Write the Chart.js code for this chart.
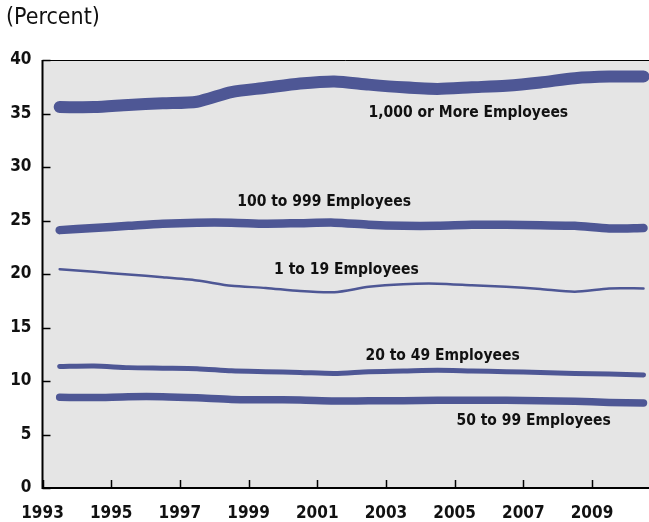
<!DOCTYPE html>
<html>
<head>
<meta charset="utf-8">
<script src="https://cdn.jsdelivr.net/npm/chart.js@4/dist/chart.umd.min.js"></script>
<style>
  html, body { margin: 0; padding: 0; background: #fff; }
  #wrap { width: 649px; height: 522px; }
</style>
</head>
<body>
<div id="wrap"><canvas id="chart" width="649" height="522"></canvas></div>
<script>
// annual values, plotted at mid-year
const years = [1993, 1994, 1995, 1996, 1997, 1998, 1999, 2000, 2001, 2002, 2003, 2004, 2005, 2006, 2007, 2008, 2009, 2010];
const xTicks = [1993, 1995, 1997, 1999, 2001, 2003, 2005, 2007, 2009];
const yTicks = [0, 5, 10, 15, 20, 25, 30, 35, 40];

const large = [35.6, 35.6, 35.8, 35.95, 36.1, 37.0, 37.4, 37.8, 38.0, 37.7, 37.45, 37.3, 37.45, 37.6, 37.9, 38.3, 38.45, 38.45];
const mid = [24.1, 24.3, 24.5, 24.7, 24.8, 24.8, 24.7, 24.75, 24.8, 24.6, 24.5, 24.5, 24.6, 24.6, 24.55, 24.5, 24.25, 24.3];
const small = [20.45, 20.2, 19.95, 19.7, 19.4, 18.9, 18.7, 18.4, 18.3, 18.8, 19.05, 19.1, 18.95, 18.8, 18.6, 18.35, 18.65, 18.65];
const twenty = [11.35, 11.4, 11.25, 11.2, 11.15, 10.95, 10.87, 10.8, 10.7, 10.87, 10.93, 11.0, 10.93, 10.87, 10.8, 10.7, 10.65, 10.56];
const fifty = [8.47, 8.45, 8.53, 8.53, 8.43, 8.28, 8.25, 8.22, 8.13, 8.15, 8.15, 8.2, 8.2, 8.2, 8.15, 8.1, 8.0, 7.95];

const seriesNames = ["1,000 or More Employees", "100 to 999 Employees", "1 to 19 Employees", "20 to 49 Employees", "50 to 99 Employees"];
const seriesValues = [large, mid, small, twenty, fifty];
const lineWidths = [12, 8.5, 2.5, 5, 7.5];

// label anchor in data units (center of text)
const labelSpots = [
  { x: 2005.4, y: 35.05 },
  { x: 2001.2, y: 26.7 },
  { x: 2001.85, y: 20.35 },
  { x: 2004.65, y: 12.35 },
  { x: 2007.3, y: 6.25 },
];

const blue = "#4e5795";
const fontName = "'DejaVu Sans Condensed', 'DejaVu Sans', sans-serif";

const datasets = seriesValues.map((vals, i) => ({
  label: seriesNames[i],
  data: vals.map((v, j) => ({ x: years[j] + 0.5, y: v })),
  borderColor: blue,
  borderWidth: lineWidths[i],
  borderCapStyle: "round",
  borderJoinStyle: "round",
  pointRadius: 0,
  tension: 0.25,
  fill: false,
}));

const decor = {
  id: "decor",
  beforeDraw(chart) {
    const { ctx, chartArea: a } = chart;
    ctx.save();
    ctx.fillStyle = "#e5e5e5";
    ctx.fillRect(a.left, a.top, a.right - a.left, a.bottom - a.top);
    ctx.restore();
  },
  afterDraw(chart) {
    const { ctx, chartArea: a, scales } = chart;
    ctx.save();
    ctx.strokeStyle = "#000";
    // top border
    ctx.lineWidth = 1;
    ctx.beginPath();
    ctx.moveTo(a.left, a.top + 0.5);
    ctx.lineTo(a.right, a.top + 0.5);
    ctx.stroke();
    // left and bottom axes
    ctx.lineWidth = 2;
    ctx.beginPath();
    ctx.moveTo(a.left, a.top);
    ctx.lineTo(a.left, a.bottom);
    ctx.lineTo(a.right, a.bottom);
    ctx.stroke();
    // inward ticks
    ctx.lineWidth = 1.5;
    yTicks.forEach(v => {
      const py = Math.round(scales.y.getPixelForValue(v)) + 0.5;
      ctx.beginPath();
      ctx.moveTo(a.left, py);
      ctx.lineTo(a.left + 8, py);
      ctx.stroke();
    });
    xTicks.forEach(v => {
      const px = Math.round(scales.x.getPixelForValue(v)) + 0.5;
      ctx.beginPath();
      ctx.moveTo(px, a.bottom);
      ctx.lineTo(px, a.bottom - 8);
      ctx.stroke();
    });
    // series labels
    ctx.fillStyle = "#111";
    ctx.font = "bold 15.5px " + fontName;
    ctx.textAlign = "center";
    ctx.textBaseline = "middle";
    labelSpots.forEach((p, i) => {
      ctx.fillText(seriesNames[i], scales.x.getPixelForValue(p.x), scales.y.getPixelForValue(p.y));
    });
    // unit note
    ctx.font = "23px " + fontName;
    ctx.textAlign = "left";
    ctx.fillText("(Percent)", 6, 18);
    ctx.restore();
  }
};

new Chart(document.getElementById("chart"), {
  type: "line",
  data: { datasets },
  options: {
    responsive: false,
    animation: false,
    layout: { padding: { top: 60, right: 0, left: 0, bottom: 0 } },
    plugins: { legend: { display: false }, tooltip: { enabled: false } },
    scales: {
      x: {
        type: "linear",
        min: 1993,
        max: 2010.66,
        afterBuildTicks: s => { s.ticks = xTicks.map(v => ({ value: v })); },
        afterFit: s => { s.height = 34; },
        grid: { display: false },
        border: { display: false },
        ticks: {
          color: "#111",
          font: { family: fontName, size: 17, weight: "bold" },
          padding: 7,
          maxRotation: 0,
          autoSkip: false,
          callback: v => String(v),
        },
      },
      y: {
        min: 0,
        max: 40,
        afterBuildTicks: s => { s.ticks = yTicks.map(v => ({ value: v })); },
        afterFit: s => { s.width = 42.5; },
        grid: { display: false },
        border: { display: false },
        ticks: {
          color: "#111",
          font: { family: fontName, size: 17, weight: "bold" },
          padding: 3,
        },
      },
    },
  },
  plugins: [decor],
});
</script>
</body>
</html>
